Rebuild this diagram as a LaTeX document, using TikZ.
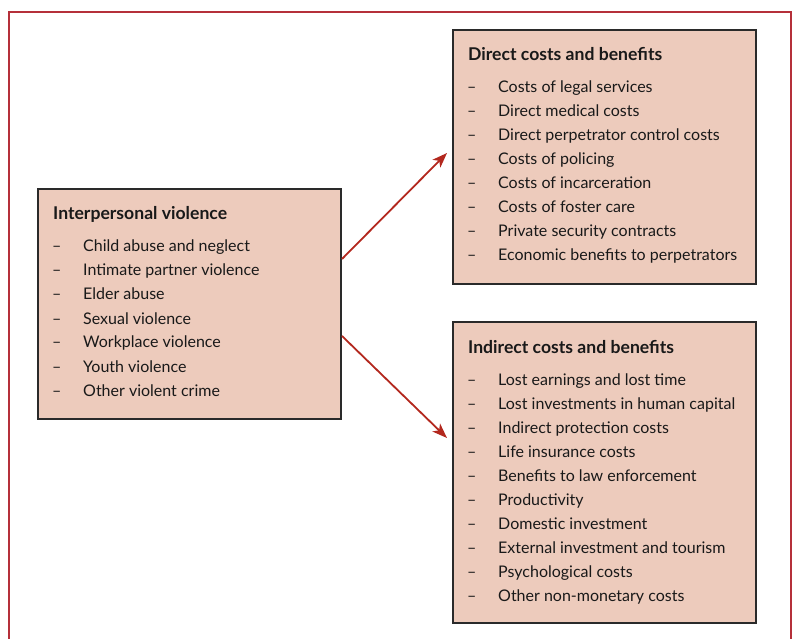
\documentclass[tikz,border=0pt]{standalone}
\usepackage{fontspec}
\setmainfont{Lato}
\usetikzlibrary{arrows.meta}
\definecolor{boxfill}{HTML}{EDCBBC}
\definecolor{boxline}{HTML}{2A2A2A}
\definecolor{arrowred}{HTML}{B3281E}
\definecolor{framered}{HTML}{B5303A}
\begin{document}
\begin{tikzpicture}[x=1pt,y=-1pt,
  box/.style={draw=boxline, line width=2pt, fill=boxfill, anchor=north west, inner sep=0pt},
  titletext/.style={anchor=base west, inner sep=0pt, font=\fontsize{17.6}{17.6}\selectfont\bfseries, text=black!90},
  itemtext/.style={anchor=base west, inner sep=0pt, font=\fontsize{16}{16}\selectfont, text=black!90},
  conn/.style={draw=arrowred, line width=1.8pt, -{Stealth[length=15pt,width=11pt,inset=4pt]}}]
\useasboundingbox (0,0) rectangle (793,639);
\draw[framered, line width=1.5pt] (9,639) -- (9,12) -- (791,12) -- (791,639);

% boxes
\node[box, minimum width=303pt, minimum height=230pt] (iv) at (37,188) {};
\node[box, minimum width=303pt, minimum height=254pt] (dc) at (452,29) {};
\node[box, minimum width=303pt, minimum height=301pt] (ic) at (452,321) {};

% left box
\node[titletext] (ivt) at (53,220) {Interpersonal violence};
\foreach \t [count=\i from 0] in {Child abuse and neglect, Intimate partner violence, Elder abuse, Sexual violence, Workplace violence, Youth violence, Other violent crime}{
  \node[itemtext] (ivd\i) at (52,252+24*\i) {–};
  \node[itemtext] (ivi\i) at (83,252+24*\i) {\t};
}

% direct
\node[titletext] (dct) at (468,61) {Direct costs and benefits};
\foreach \t [count=\i from 0] in {Costs of legal services, Direct medical costs, Direct perpetrator control costs, Costs of policing, Costs of incarceration, Costs of foster care, Private security contracts, Economic benefits to perpetrators}{
  \node[itemtext] (dcd\i) at (467,93+24*\i) {–};
  \node[itemtext] (dci\i) at (498,93+24*\i) {\t};
}

% indirect
\node[titletext] (ict) at (468,353) {Indirect costs and benefits};
\foreach \t [count=\i from 0] in {Lost earnings and lost time, Lost investments in human capital, Indirect protection costs, Life insurance costs, Benefits to law enforcement, Productivity, Domestic investment, External investment and tourism, Psychological costs, Other non-monetary costs}{
  \node[itemtext] (icd\i) at (467,385+24*\i) {–};
  \node[itemtext] (ici\i) at (498,385+24*\i) {\t};
}

% arrows
\coordinate (tip1) at (447,153);
\coordinate (tip2) at (447,438);
\draw[conn] ([yshift=45pt]iv.east) -- (tip1);
\draw[conn] ([yshift=-32pt]iv.east) -- (tip2);
\end{tikzpicture}
\end{document}
